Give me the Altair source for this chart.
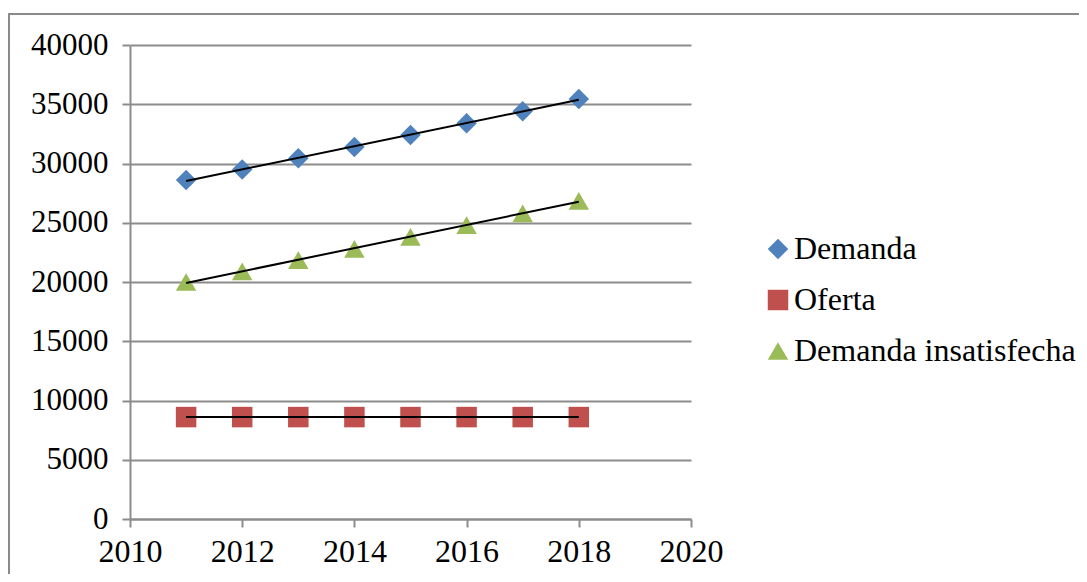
import altair as alt
import pandas as pd

years = [2011, 2012, 2013, 2014, 2015, 2016, 2017, 2018]
demanda = [28600, 29500, 30450, 31400, 32400, 33400, 34400, 35450]
oferta = [8600, 8600, 8600, 8600, 8600, 8600, 8600, 8600]
insatisfecha = [20000, 20900, 21850, 22800, 23800, 24800, 25800, 26850]

series_names = ["Demanda", "Oferta", "Demanda insatisfecha"]
series_colors = ["#4F81BD", "#C0504D", "#9BBB59"]
series_shapes = ["diamond", "square", "triangle-up"]
x_ticks = [2010, 2012, 2014, 2016, 2018, 2020]
y_ticks = [0, 5000, 10000, 15000, 20000, 25000, 30000, 35000, 40000]

FONT = "Liberation Serif"

rows = []
for name, vals in zip(series_names, [demanda, oferta, insatisfecha]):
    for yr, v in zip(years, vals):
        rows.append({"year": yr, "value": v, "series": name})
df = pd.DataFrame(rows)

x_enc = alt.X("year:Q", scale=alt.Scale(domain=[2010, 2020], nice=False, zero=False),
              axis=alt.Axis(values=x_ticks, format="d", title=None, grid=False,
                            labelFont=FONT, labelFontSize=32, labelPadding=9, tickSize=8,
                            labelFlush=False, labelOverlap=False))
y_enc = alt.Y("value:Q", scale=alt.Scale(domain=[0, 40000], nice=False),
              axis=alt.Axis(values=y_ticks, format="d", title=None, grid=True,
                            labelFont=FONT, labelFontSize=31, labelPadding=14, tickSize=8,
                            labelFlush=False, labelOverlap=False))

leg = alt.Legend(title=None, orient="none", legendX=632, legendY=188,
                 labelFont=FONT, labelFontSize=32, symbolSize=420, rowPadding=19,
                 labelOffset=0, symbolStrokeWidth=0, labelColor="black", labelLimit=0)

base = alt.Chart(df)

points = base.mark_point(filled=True, opacity=1, size=420).encode(
    x=x_enc,
    y=y_enc,
    color=alt.Color("series:N", scale=alt.Scale(domain=series_names, range=series_colors),
                    legend=leg),
    shape=alt.Shape("series:N", scale=alt.Scale(domain=series_names, range=series_shapes),
                    legend=leg),
)

trend = base.transform_regression("year", "value", groupby=["series"]).mark_line(
    color="black", strokeWidth=2
).encode(x="year:Q", y="value:Q", detail="series:N")

frame = alt.Chart(pd.DataFrame({"a": [0]})).mark_rect(
    fill="white", fillOpacity=0, stroke="#8a8a8a", strokeWidth=2
).encode(x=alt.value(-121), y=alt.value(-31), x2=alt.value(1100), y2=alt.value(700))

chart = alt.layer(frame, points, trend).properties(
    width=561, height=474,
    padding={"left": 122, "top": 37, "right": 388, "bottom": 55},
    autosize=alt.AutoSizeParams(type="none"),
).configure(font=FONT).configure_axis(
    gridColor="#8c8c8c", gridWidth=2, domainColor="#8c8c8c", domainWidth=2,
    tickColor="#8c8c8c", tickWidth=2, labelColor="black", labelFont=FONT
).configure_legend(labelFont=FONT).configure_view(stroke=None)

chart.save("out.html", embed_options={"renderer": "svg", "actions": False})
